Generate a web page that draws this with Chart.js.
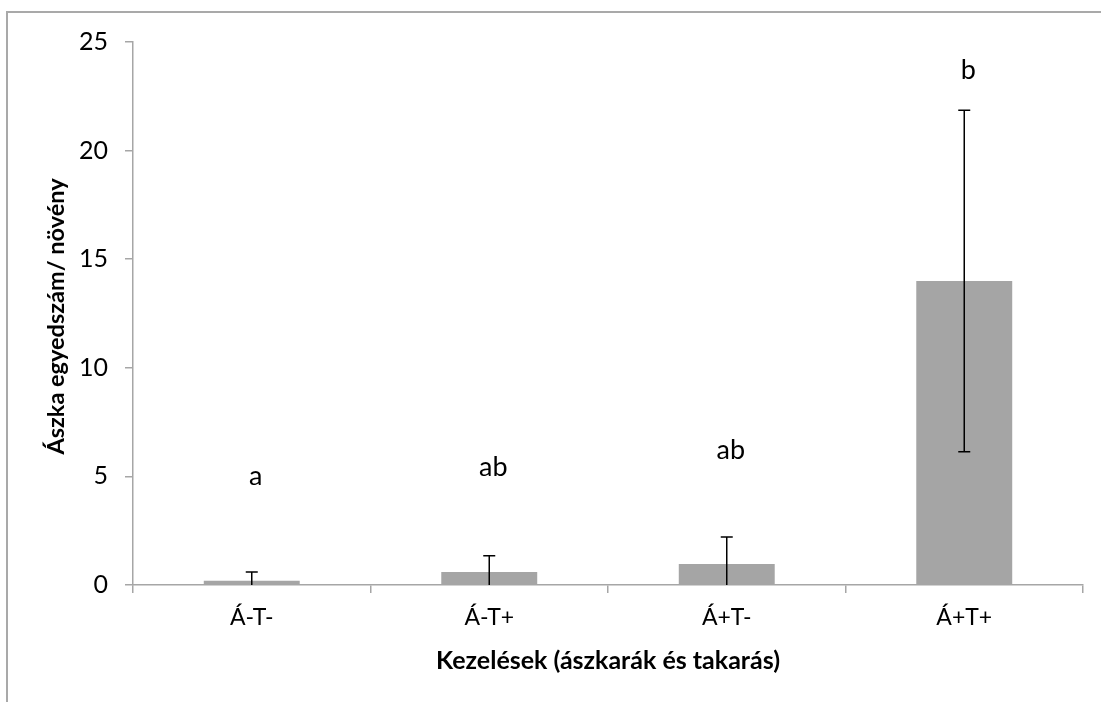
<!DOCTYPE html>
<html>
<head>
<meta charset="utf-8">
<script src="https://cdn.jsdelivr.net/npm/chart.js@4"></script>
<style>
  html, body { margin: 0; padding: 0; background: #fff; }
  #wrap { position: relative; width: 1101px; height: 702px; overflow: hidden; }
  #frame { position: absolute; left: 6px; top: 11px; width: 2000px; height: 2000px;
           border-left: 2px solid #a9a9a9; border-top: 2px solid #a9a9a9; }
  canvas { position: absolute; left: 0; top: 0; }
</style>
</head>
<body>
<div id="wrap">
  <div id="frame"></div>
  <canvas id="c" width="1101" height="702"></canvas>
</div>
<script>
const categories = ['Á-T-', 'Á-T+', 'Á+T-', 'Á+T+'];
const means = [0.2, 0.6, 0.97, 14.0];
const errors = [0.4, 0.75, 1.24, 7.86];
const letters = ['a', 'ab', 'ab', 'b'];
const letterValues = [4.6, 5.0, 5.8, 23.3];
const yTicks = [0, 5, 10, 15, 20, 25];
const xTitle = 'Kezelések (ászkarák és takarás)';
const yTitle = 'Ászka egyedszám/ növény';

const FONT = 'Lato, "Open Sans", sans-serif';
const AXIS = '#a6a6a6';

const extras = {
  id: 'extras',
  afterDatasetsDraw(chart) {
    const ctx = chart.ctx, xs = chart.scales.x, ys = chart.scales.y, a = chart.chartArea;
    ctx.save();
    ctx.beginPath();
    ctx.rect(a.left, a.top - 20, a.right - a.left, a.bottom - a.top + 20);
    ctx.clip();
    ctx.strokeStyle = '#000';
    ctx.lineWidth = 1.5;
    means.forEach((m, i) => {
      const x = xs.getPixelForValue(i);
      const t = ys.getPixelForValue(m + errors[i]);
      const b = ys.getPixelForValue(m - errors[i]);
      ctx.beginPath();
      ctx.moveTo(x, t); ctx.lineTo(x, b);
      ctx.moveTo(x - 6, t); ctx.lineTo(x + 6, t);
      ctx.moveTo(x - 6, b); ctx.lineTo(x + 6, b);
      ctx.stroke();
    });
    ctx.restore();
    ctx.save();
    ctx.fillStyle = '#000';
    ctx.font = '27px ' + FONT;
    ctx.textAlign = 'center';
    ctx.textBaseline = 'alphabetic';
    letters.forEach((l, i) => {
      ctx.fillText(l, xs.getPixelForValue(i) + 4, ys.getPixelForValue(letterValues[i]));
    });
    ctx.restore();
  },
  afterDraw(chart) {
    const ctx = chart.ctx, a = chart.chartArea;
    ctx.save();
    ctx.fillStyle = '#000';
    ctx.textAlign = 'center';
    ctx.textBaseline = 'alphabetic';
    ctx.font = 'bold 25px ' + FONT;
    ctx.fillText(xTitle, (a.left + a.right) / 2, 669);
    ctx.font = 'bold 23.5px ' + FONT;
    ctx.translate(64, (a.top + a.bottom) / 2 + 3);
    ctx.rotate(-Math.PI / 2);
    ctx.fillText(yTitle, 0, 0);
    ctx.restore();
  }
};

new Chart(document.getElementById('c'), {
  type: 'bar',
  data: {
    labels: categories,
    datasets: [{
      data: means,
      backgroundColor: '#a5a5a5',
      borderWidth: 0,
      barPercentage: 0.404,
      categoryPercentage: 1.0
    }]
  },
  options: {
    responsive: false,
    animation: false,
    devicePixelRatio: 1,
    layout: { padding: { left: 0, top: 42, right: 18, bottom: 0 } },
    plugins: { legend: { display: false }, tooltip: { enabled: false } },
    scales: {
      x: {
        offset: true,
        grid: { display: true, offset: true, drawOnChartArea: false, drawTicks: true,
                tickLength: 8, color: AXIS, lineWidth: 1.5 },
        border: { color: AXIS, width: 1.5 },
        ticks: { color: '#000', font: { family: FONT, size: 23 }, padding: 11 },
        afterFit(s) { s.height = 117; }
      },
      y: {
        min: 0, max: 25,
        afterBuildTicks(s) { s.ticks = yTicks.map(v => ({ value: v })); },
        grid: { display: true, drawOnChartArea: false, drawTicks: true,
                tickLength: 8, color: AXIS, lineWidth: 1.5 },
        border: { color: AXIS, width: 1.5 },
        ticks: { color: '#000', font: { family: FONT, size: 25 }, padding: 17 },
        afterFit(s) { s.width = 133; }
      }
    }
  },
  plugins: [extras]
});
</script>
</body>
</html>
